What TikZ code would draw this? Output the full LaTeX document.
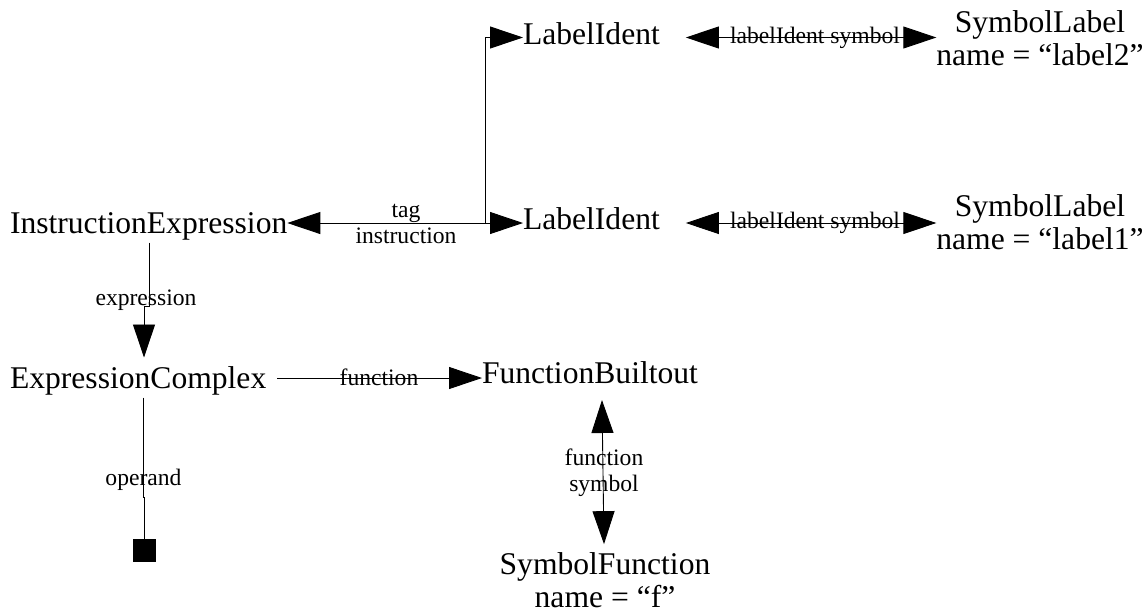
\documentclass[tikz,border=0pt]{standalone}
\usepackage{fontspec}
\setmainfont{Liberation Serif}
\usetikzlibrary{arrows.meta,calc}
\begin{document}
\begin{tikzpicture}[x=1pt,y=-1pt,
  every node/.style={inner sep=0pt, outer sep=0pt},
  big/.style={font=\fontsize{31.6}{32.5}\selectfont},
  mainnode/.style={big, text height=21pt, text depth=0pt},
  tgtnode/.style={big, text height=21pt, text depth=8pt},
  twoline/.style={big, align=center},
  lbl/.style={font=\fontsize{23.6}{26}\selectfont, align=center},
  conn/.style={line width=0.9pt},
  arr/.style={conn, -{Triangle[length=33pt,width=22pt]}},
  dblarr/.style={conn, {Triangle[length=33pt,width=22pt]}-{Triangle[length=33pt,width=22pt]}},
  sqnode/.style={fill=black, minimum size=23pt}
]
\fill[white] (0,0) rectangle (1145,614);
\useasboundingbox (0,0) rectangle (1145,614);

% nodes
\node[mainnode, anchor=west] (ie) at (10,223) {InstructionExpression};
\node[tgtnode, anchor=west] (li2) at (523,37.5) {LabelIdent};
\node[tgtnode, anchor=west] (li1) at (523,223) {LabelIdent};
\node[twoline] (sl2) at (1040,38) {SymbolLabel\\name = “label2”};
\node[twoline] (sl1) at (1040,222) {SymbolLabel\\name = “label1”};
\node[mainnode, anchor=west] (ec) at (10,378) {ExpressionComplex};
\node[tgtnode, anchor=west] (fb) at (482,377) {FunctionBuiltout};
\node[twoline] (sf) at (605,580) {SymbolFunction\\name = “f”};
\node[sqnode] (sq) at (144.5,550.5) {};

% connectors
\draw[dblarr] (ie.east) -- (li1.west);
\coordinate (br) at ($(li1.west)+(-38,0)$);
\draw[arr] (br) |- (li2.west);
\node[lbl] (lbtag) at (406,224) {tag\\instruction};

\draw[arr] ($(ie.south west)+(139,9)$) -- ++(0,64) -- ++(-5,0) -- ($(ec.north west)+(134,-10)$);
\node[lbl] (lbexpr) at (146,300) {expression};

\draw[arr] ($(ec.east)+(11,0)$) -- (fb.west |- ec.east);
\node[lbl] (lbfun) at (379,377) {function};

\draw[dblarr] ($(fb.south)+(12,8.5)$) -- ($(sf.north)+(-1,-8.5)$);
\node[lbl] (lbfsym) at (604,473) {function\\symbol};

\draw[conn] ($(ec.south west)+(133,9)$) -- ++(0,99.5) -- ++(1.5,0) -- (sq.north);
\node[lbl] (lbop) at (143.5,480) {operand};

\draw[dblarr] ($(li2.east)+(26,0)$) -- (sl2.west |- li2.east);
\node[lbl] (lbls2) at (815,37.5) {labelIdent symbol};
\draw[dblarr] ($(li1.east)+(26,0)$) -- (sl1.west |- li1.east);
\node[lbl] (lbls1) at (815,223) {labelIdent symbol};
\end{tikzpicture}
\end{document}
